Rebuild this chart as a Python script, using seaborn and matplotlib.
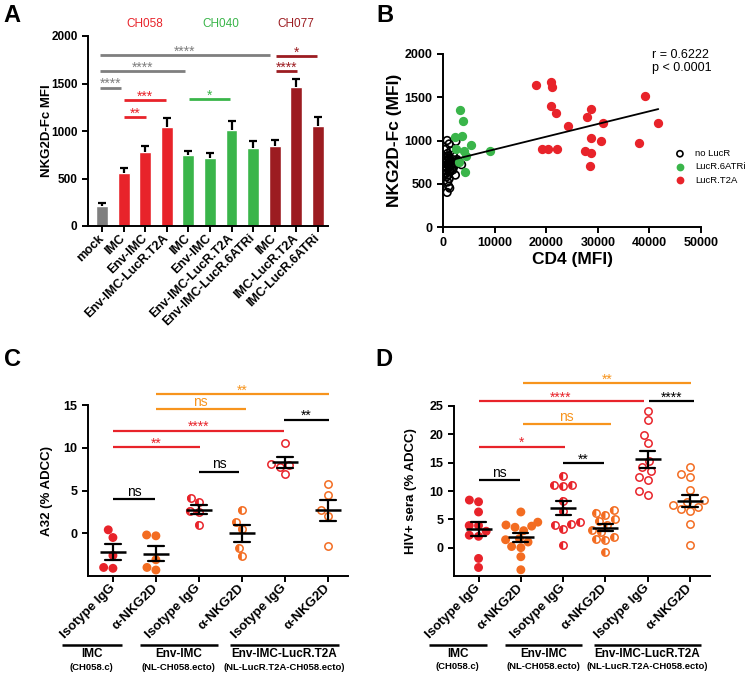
import numpy as np
import pandas as pd
import matplotlib
matplotlib.use('Agg')
import matplotlib.pyplot as plt
from matplotlib.markers import MarkerStyle
import seaborn as sns

sns.set_theme(style='ticks', rc={
    'axes.linewidth': 1.4, 'xtick.major.width': 1.4, 'ytick.major.width': 1.4,
    'xtick.major.size': 4, 'ytick.major.size': 4,
    'axes.edgecolor': 'black', 'xtick.color': 'black', 'ytick.color': 'black',
    'text.color': 'black', 'axes.labelcolor': 'black'})
plt.rcParams['font.family'] = ['Liberation Sans', 'DejaVu Sans']

RED = '#E8232A'
GREEN = '#3AB54A'
DARKRED = '#9C1C21'
GREY = '#7F7F7F'
ORANGE = '#F36C21'
ORANGE_LINE = '#F7941D'

# ---- panel A data
a_labels = ['mock', 'IMC', 'Env-IMC', 'Env-IMC-LucR.T2A', 'IMC', 'Env-IMC',
            'Env-IMC-LucR.T2A', 'Env-IMC-LucR.6ATRi', 'IMC', 'IMC-LucR.T2A', 'IMC-LucR.6ATRi']
a_virus = ['mock', 'CH058', 'CH058', 'CH058', 'CH040', 'CH040', 'CH040', 'CH040',
           'CH077', 'CH077', 'CH077']
a_mfi = [210, 560, 780, 1040, 745, 715, 1010, 820, 840, 1465, 1055]
a_sem = [30, 50, 60, 100, 45, 50, 95, 75, 65, 85, 95]
virus_colors = {'mock': GREY, 'CH058': RED, 'CH040': GREEN, 'CH077': DARKRED}
# significance brackets: text, colour, start, end (bar index), height
a_sig = [('****', GREY, -0.08, 7.77, 1800), ('****', GREY, -0.08, 3.83, 1630),
         ('****', GREY, -0.08, 0.88, 1455), ('***', RED, 1.03, 2.96, 1325),
         ('**', RED, 1.03, 2.02, 1145), ('*', GREEN, 4.01, 5.95, 1335),
         ('*', DARKRED, 8.04, 9.98, 1790), ('****', DARKRED, 8.04, 9.03, 1630)]

# ---- panel B data
b_nolucr_cd4 = [800, 2500, 1200, 600, 1500, 900, 2000, 400, 1100, 1800, 700, 3000, 1300, 500,
                2200, 900, 1600, 300, 1200, 3600, 2700, 800, 1900, 500, 1400, 2400, 600, 1000,
                300, 700, 1200, 900, 1100, 800, 1300, 1700, 2100, 400, 1000, 1500]
b_nolucr_nkg = [1000, 990, 960, 900, 880, 850, 830, 800, 790, 780, 770, 760, 750, 740,
                730, 720, 710, 700, 690, 720, 780, 680, 660, 650, 640, 600, 620, 600,
                610, 580, 560, 520, 470, 400, 450, 680, 700, 760, 820, 760]
b_6atri_cd4 = [3360, 3880, 3750, 2260, 5500, 9060, 4140, 2460, 4460, 3040, 4200]
b_6atri_nkg = [1351, 1228, 1050, 1042, 950, 880, 880, 896, 819, 757, 637]
b_t2a_cd4 = [18050, 20990, 21150, 20990, 21990, 24130, 27940, 28660, 31050, 28600, 30530,
             39140, 41720, 38030, 19280, 20310, 22120, 27430, 28590, 28460]
b_t2a_nkg = [1637, 1680, 1622, 1398, 1313, 1170, 1266, 1367, 1201, 1027, 1000,
             1517, 1205, 973, 896, 903, 903, 880, 853, 703]
b_groups = ['no LucR', 'LucR.6ATRi', 'LucR.T2A']
b_colors = ['black', GREEN, RED]

# ---- panels C / D data
dot_conds = ['IMC iso', 'IMC anti', 'Env iso', 'Env anti', 'T2A iso', 'T2A anti']
dot_ticklabels = ['Isotype IgG', 'α-NKG2D', 'Isotype IgG', 'α-NKG2D', 'Isotype IgG', 'α-NKG2D']
dot_colors = [RED, ORANGE, RED, ORANGE, RED, ORANGE]
dot_fill = ['full', 'full', 'left', 'left', 'none', 'none']
virus_groups = ['IMC', 'Env-IMC', 'Env-IMC-LucR.T2A']
virus_sub = ['(CH058.c)', '(NL-CH058.ecto)', '(NL-LucR.T2A-CH058.ecto)']
group_span = [(-1.18, 0.2), (0.62, 2.44), (2.72, 5.25)]

c_values = [[0.4, -0.5, -2.6, -4.1, -4.0],
            [-0.2, -0.3, -3.1, -4.0, -4.3],
            [4.1, 3.6, 2.5, 2.6, 1.0],
            [2.7, 1.3, 0.5, -1.7, -2.7],
            [10.6, 7.8, 8.1, 8.0, 6.9],
            [5.8, 4.5, 2.7, 2.0, -1.5]]
c_sig = [('**', ORANGE_LINE, 1.0, 5.02, 16.3), ('ns', ORANGE_LINE, 1.0, 3.09, 14.5),
         ('****', RED, 0, 3.98, 12.0), ('**', RED, 0, 2.02, 10.1),
         ('**', 'black', 3.98, 5.02, 13.3), ('ns', 'black', 2.0, 2.93, 7.2),
         ('ns', 'black', 0, 0.98, 4.0)]

d_values = [[8.1, 8.4, 6.3, 3.9, 3.9, 2.9, 2.0, 2.2, -1.9, -3.5],
            [6.3, 4.5, 3.0, 3.8, 3.6, 4.0, 1.0, 1.4, 1.6, 0.2, 0.0, -1.6, -3.9],
            [12.7, 11.0, 10.8, 11.1, 8.3, 6.4, 4.5, 4.0, 3.3, 4.1, 0.4],
            [6.2, 6.6, 5.8, 5.0, 4.7, 4.0, 3.1, 2.8, 1.9, 1.4, 1.5, -0.8],
            [24.1, 22.5, 19.8, 18.4, 15.3, 14.2, 13.5, 12.5, 12.0, 10.0, 9.3],
            [14.3, 13.0, 12.4, 10.2, 8.4, 8.0, 7.6, 7.2, 6.5, 6.8, 4.1, 0.4]]
d_sig = [('**', ORANGE_LINE, 1.04, 5.03, 29.0), ('****', RED, 0, 3.9, 25.9),
         ('****', 'black', 4.04, 5.1, 25.9), ('ns', ORANGE_LINE, 1.04, 3.12, 21.8),
         ('*', RED, 0, 2.04, 17.8), ('**', 'black', 2.0, 2.97, 14.9),
         ('ns', 'black', 0, 0.97, 11.9)]

W, H = 750, 676
fig = plt.figure(figsize=(W / 100, H / 100), dpi=100)


def px_axes(left, top, right, bottom):
    return fig.add_axes([left / W, 1 - bottom / H, (right - left) / W, (bottom - top) / H])


def sig_bar(ax, txt, col, x0, x1, y, lw):
    ax.plot([x0, x1], [y, y], color=col, lw=lw, clip_on=False, solid_capstyle='butt')
    dy = 2.5 if txt == 'ns' else -0.3
    ax.annotate(txt, ((x0 + x1) / 2, y), xytext=(0, dy), textcoords='offset points',
                ha='center', va='baseline', color=col, fontsize=10, annotation_clip=False)


# ---------------- A
axA = px_axes(88, 36, 328, 226)
dfA = pd.DataFrame({'bar': [v + ' ' + l for v, l in zip(a_virus, a_labels)],
                    'virus': a_virus, 'mfi': a_mfi, 'sem': a_sem})
sns.barplot(data=dfA, x='bar', y='mfi', hue='virus', palette=virus_colors, width=0.55,
            saturation=1, dodge=False, legend=False, ax=axA)
xs = np.arange(len(dfA))
eb = axA.errorbar(xs, dfA['mfi'], yerr=[np.zeros(len(dfA)), dfA['sem']], fmt='none',
                  ecolor='black', elinewidth=1.6, capsize=3.2, capthick=1.6)
for cap in eb[1]:
    if np.allclose(cap.get_ydata(), dfA['mfi']):
        cap.set_visible(False)
for txt, col, x0, x1, y in a_sig:
    sig_bar(axA, txt, col, x0, x1, y, 2.0)
for v in ['CH058', 'CH040', 'CH077']:
    axA.text(xs[dfA['virus'] == v].mean(), 2125, v, color=virus_colors[v], ha='center',
             va='center', fontsize=8.5, clip_on=False)
axA.set_xlim(-0.65, 10.47)
axA.set_ylim(0, 2000)
axA.set_yticks(range(0, 2001, 500))
axA.set_xticks(xs)
axA.set_xticklabels(a_labels, rotation=45, ha='right', va='center', rotation_mode='anchor',
                    fontsize=9, fontweight='bold')
axA.tick_params(axis='y', labelsize=8.5)
for t in axA.get_yticklabels():
    t.set_fontweight('bold')
axA.set_xlabel('')
axA.set_ylabel('NKG2D-Fc MFI', fontsize=9.5, fontweight='bold')
axA.yaxis.set_label_coords(-0.146, 0.5)
sns.despine(ax=axA)

# ---------------- B
axB = px_axes(443, 54, 701, 227)
dfB = pd.DataFrame({
    'cd4': b_nolucr_cd4 + b_6atri_cd4 + b_t2a_cd4,
    'nkg2d': b_nolucr_nkg + b_6atri_nkg + b_t2a_nkg,
    'group': [b_groups[0]] * len(b_nolucr_cd4) + [b_groups[1]] * len(b_6atri_cd4)
             + [b_groups[2]] * len(b_t2a_cd4)})
for name, col in zip(b_groups, b_colors):
    sub = dfB[dfB['group'] == name]
    sns.scatterplot(data=sub, x='cd4', y='nkg2d', color=col, s=30, linewidth=1.2,
                    label=name, ax=axB, legend=False)
    coll = axB.collections[-1]
    coll.set_edgecolor(col)
    if name == 'no LucR':
        coll.set_facecolor('none')
sns.regplot(data=dfB, x='cd4', y='nkg2d', scatter=False, ci=None, truncate=True,
            color='black', line_kws={'linewidth': 1.3}, ax=axB)
axB.set_xlim(0, 50000)
axB.set_ylim(0, 2000)
axB.set_xticks(range(0, 50001, 10000))
axB.set_yticks(range(0, 2001, 500))
axB.tick_params(labelsize=9)
for t in axB.get_xticklabels() + axB.get_yticklabels():
    t.set_fontweight('bold')
axB.set_xlabel('CD4 (MFI)', fontsize=12.5, fontweight='bold')
axB.set_ylabel('NKG2D-Fc (MFI)', fontsize=12.5, fontweight='bold')
axB.yaxis.set_label_coords(-0.159, 0.5)
axB.xaxis.set_label_coords(0.5, -0.143)
axB.text(0.81, 1.03, 'r = 0.6222\np < 0.0001', transform=axB.transAxes, ha='left',
         va='top', fontsize=9, linespacing=1.15)
axB.legend(loc='center left', bbox_to_anchor=(0.9, 0.347), frameon=False, fontsize=6.8,
           handlelength=1, handletextpad=1.1, borderpad=0, borderaxespad=0,
           labelspacing=0.45, markerscale=0.8)
sns.despine(ax=axB)


# ---------------- C / D
def dot_panel(ax, values, sig, ymax, ystep, ylabel, label_x):
    df = pd.DataFrame({'cond': np.repeat(dot_conds, [len(v) for v in values]),
                       'val': np.concatenate(values)})
    df['fill'] = df['cond'].map(dict(zip(dot_conds, dot_fill)))
    pal = dict(zip(dot_conds, dot_colors))
    n0 = len(ax.collections)
    sns.swarmplot(data=df, x='cond', y='val', hue='cond', order=dot_conds,
                  hue_order=dot_conds, palette=pal, size=5.3, linewidth=1.1,
                  legend=False, ax=ax, zorder=3)
    for coll in ax.collections[n0:]:
        k = int(round(np.mean(coll.get_offsets()[:, 0])))
        coll.set_edgecolor(dot_colors[k])
        if dot_fill[k] != 'full':
            coll.set_facecolor('white')
    half = df[df['fill'] == 'left']
    n1 = len(ax.collections)
    sns.swarmplot(data=half, x='cond', y='val', hue='cond', order=dot_conds,
                  hue_order=dot_conds, palette=pal, size=5.3, linewidth=1.1,
                  marker=MarkerStyle('o', 'left'), legend=False, ax=ax, zorder=4)
    for coll in ax.collections[n1:]:
        coll.set_edgecolor('none')
    sns.pointplot(data=df, x='cond', y='val', order=dot_conds, errorbar='se', color='black',
                  marker='_', markersize=19, markeredgewidth=1.8, linestyle='none',
                  capsize=0.36, err_kws={'linewidth': 1.6, 'zorder': 5}, ax=ax, zorder=5)
    for txt, col, x0, x1, y in sig:
        sig_bar(ax, txt, col, x0, x1, y, 1.6)
    ax.set_xlim(-0.58, 5.47)
    ax.set_ylim(-5, ymax)
    ax.set_yticks(np.arange(0, ymax + 1, ystep))
    ax.set_xticks(range(len(dot_conds)))
    ax.set_xticklabels(dot_ticklabels, rotation=45, ha='right', va='center',
                       rotation_mode='anchor', fontsize=9.5, fontweight='bold')
    ax.tick_params(axis='y', labelsize=9)
    for t in ax.get_yticklabels():
        t.set_fontweight('bold')
    ax.set_xlabel('')
    ax.set_ylabel(ylabel, fontsize=9.5, fontweight='bold')
    ax.yaxis.set_label_coords(label_x, 0.5)
    trans = ax.get_xaxis_transform()
    for (x0, x1), name, sub in zip(group_span, virus_groups, virus_sub):
        ax.plot([x0, x1], [-0.405, -0.405], transform=trans, color='black', lw=1.8,
                clip_on=False, solid_capstyle='butt')
        ax.text((x0 + x1) / 2, -0.458, name, transform=trans, ha='center', va='center',
                fontsize=8.5, fontweight='bold')
        ax.text((x0 + x1) / 2, -0.535, sub, transform=trans, ha='center', va='center',
                fontsize=6.8, fontweight='bold')
    sns.despine(ax=ax)


axC = px_axes(88, 405, 348, 576)
dot_panel(axC, c_values, c_sig, 15, 5, 'A32 (% ADCC)', -0.135)
axD = px_axes(454, 406, 710, 576)
dot_panel(axD, d_values, d_sig, 25, 5, 'HIV+ sera (% ADCC)', -0.145)

for letter, x, y in [('A', 3, 22), ('B', 376, 22), ('C', 4, 366), ('D', 375, 366)]:
    fig.text(x / W, 1 - y / H, letter, fontsize=17, fontweight='bold', ha='left',
             va='baseline')

fig.savefig('out.png', dpi=100)
